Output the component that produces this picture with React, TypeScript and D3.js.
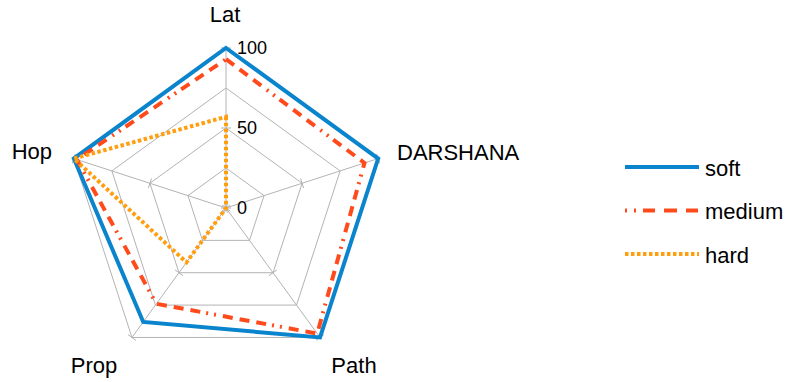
import React from "react";
import * as d3 from "d3";

const axes = ["Lat", "DARSHANA", "Path", "Prop", "Hop"];
const softValues = [100, 100, 100, 88, 100];
const mediumValues = [93, 91, 97, 74, 98];
const hardValues = [57, 0, 0, 42, 100];
const gridLevels = [0, 25, 50, 75, 100];
const tickLevels = [0, 50, 100];

const seriesList = [
  { name: "soft", values: softValues, color: "#0A84CC", dash: "none", width: 4 },
  { name: "medium", values: mediumValues, color: "#FF4A1C", dash: "10 7 10 7 10 7 2 6 2 6", width: 4 },
  { name: "hard", values: hardValues, color: "#FF9E0F", dash: "3.5 2.5", width: 4 },
];

const W = 787;
const H = 382;
const cx = 226;
const cy = 208;
const R = 160;

export default function App() {
  const r = d3.scaleLinear().domain([0, 100]).range([0, R]);
  const angle = (i: number) => (i * 2 * Math.PI) / axes.length;
  const pt = (i: number, v: number): [number, number] => [
    cx + r(v) * Math.sin(angle(i)),
    cy - r(v) * Math.cos(angle(i)),
  ];
  const radial = d3
    .lineRadial<number>()
    .angle((_, i) => angle(i))
    .radius((v) => r(v))
    .curve(d3.curveLinearClosed);

  const labelPos = [
    { x: 225, y: 22, anchor: "middle" },
    { x: 397, y: 160, anchor: "start" },
    { x: 354, y: 373, anchor: "middle" },
    { x: 94, y: 373, anchor: "middle" },
    { x: 52, y: 159, anchor: "end" },
  ];

  return (
    <svg width={W} height={H} style={{ position: "absolute", left: 0, top: 0 }} fontFamily="'Liberation Sans', Arial, sans-serif">
      <rect width={W} height={H} fill="#fff" />
      <g>
        {gridLevels.slice(1).map((lv) => (
          <polygon
            key={lv}
            points={axes.map((_, i) => pt(i, lv).join(",")).join(" ")}
            fill="none"
            stroke="#b3b3b3"
            strokeWidth={1}
          />
        ))}
        {axes.map((_, i) => {
          const [x2, y2] = pt(i, 100);
          return <line key={i} x1={cx} y1={cy} x2={x2} y2={y2} stroke="#b3b3b3" strokeWidth={1} />;
        })}
        {axes.map((_, i) =>
          tickLevels.map((lv) => {
            const [x, y] = pt(i, lv);
            const a = angle(i);
            const px = Math.cos(a) * 5;
            const py = Math.sin(a) * 5;
            return (
              <line key={`${i}-${lv}`} x1={x - px} y1={y - py} x2={x + px} y2={y + py} stroke="#b3b3b3" strokeWidth={1} />
            );
          })
        )}
      </g>
      {tickLevels.map((lv) => (
        <text key={lv} x={cx + 11} y={cy - r(lv) + 6} fontSize={18} fill="#000">
          {lv}
        </text>
      ))}
      <g transform={`translate(${cx},${cy})`}>
        {seriesList.map((s) => (
          <path
            key={s.name}
            d={radial(s.values) || ""}
            fill="none"
            stroke={s.color}
            strokeWidth={s.width}
            strokeDasharray={s.dash}
            strokeLinejoin="miter"
          />
        ))}
      </g>
      {axes.map((a, i) => (
        <text key={a} x={labelPos[i].x} y={labelPos[i].y} textAnchor={labelPos[i].anchor as any} fontSize={22} fill="#000">
          {a}
        </text>
      ))}
      {seriesList.map((s, i) => {
        const y = 167 + i * 43.5;
        return (
          <g key={s.name}>
            <line
              x1={625}
              y1={y}
              x2={699}
              y2={y}
              stroke={s.color}
              strokeWidth={s.width}
              strokeDasharray={s.name === "medium" ? "2 7 2 7 12 9 13 9 12" : s.dash}
            />
            <text x={705} y={y + 8.5} fontSize={22} fill="#000">
              {s.name}
            </text>
          </g>
        );
      })}
    </svg>
  );
}
